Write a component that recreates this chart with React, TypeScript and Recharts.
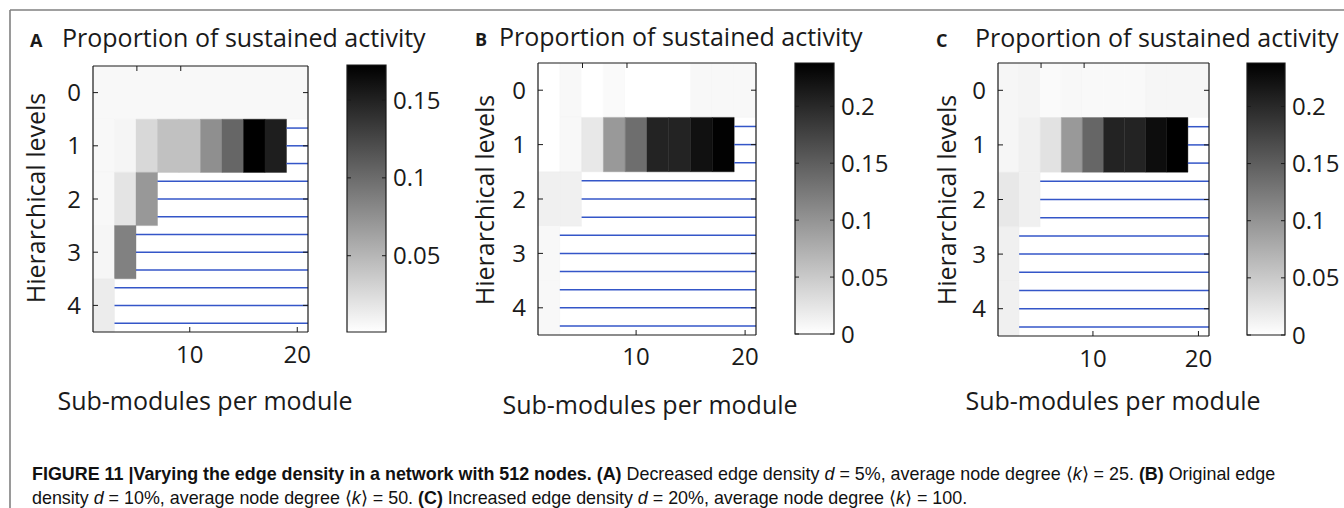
import React from 'react';
import { ComposedChart, XAxis, YAxis, ReferenceArea, ReferenceLine, Scatter } from 'recharts';

// ---------- data ----------
const subModules = [2, 4, 6, 8, 10, 12, 14, 16, 18, 20];
const levels = [0, 1, 2, 3, 4];
const xTicks = [10, 20];
const yTicks = [0, 1, 2, 3, 4];

const sustainedA: (number | null)[][] = [
  [0.006, 0.006, 0.006, 0.006, 0.006, 0.006, 0.006, 0.006, 0.006, 0.006],
  [0.006, 0.008, 0.027, 0.043, 0.043, 0.076, 0.104, 0.1725, 0.152, null],
  [0.006, 0.019, 0.07, null, null, null, null, null, null, null],
  [0.007, 0.086, null, null, null, null, null, null, null, null],
  [0.014, null, null, null, null, null, null, null, null, null],
];
const sustainedB: (number | null)[][] = [
  [0, 0.0065, 0, 0.0047, 0, 0, 0, 0.0065, 0.0065, 0.0065],
  [0, 0.0065, 0.0215, 0.095, 0.135, 0.205, 0.205, 0.222, 0.236, null],
  [0.014, 0.014, null, null, null, null, null, null, null, null],
  [0.0065, null, null, null, null, null, null, null, null, null],
  [0.0065, null, null, null, null, null, null, null, null, null],
];
const sustainedC: (number | null)[][] = [
  [0.0084, 0.0103, 0.0047, 0.0065, 0.0056, 0.0056, 0.0056, 0.0084, 0.0084, 0.0084],
  [0.0084, 0.014, 0.027, 0.095, 0.143, 0.205, 0.205, 0.226, 0.238, null],
  [0.0215, 0.014, null, null, null, null, null, null, null, null],
  [0.014, null, null, null, null, null, null, null, null, null],
  [0.014, null, null, null, null, null, null, null, null, null],
];
const colorTicksA = [0.05, 0.1, 0.15];
const colorTicksBC = [0, 0.05, 0.1, 0.15, 0.2];
const colorRangeA = [0.001, 0.1725];
const colorRangeB = [0, 0.238];
const colorRangeC = [0, 0.238];
const panelLetters = ['A', 'B', 'C'];
const titleText = 'Proportion of sustained activity';
const xLabelText = 'Sub-modules per module';
const yLabelText = 'Hierarchical levels';

// ---------- layout ----------
const FONT = "'Open Sans', 'Noto Sans', sans-serif";
const AX = '#1a1a1a';
const NAN_BLUE = '#3456c8';

type Layout = {
  plot: { left: number; top: number; w: number; h: number };
  cb: { left: number; top: number; w: number; h: number };
  xTickMargin: number;
  letterX: number; titleX: number; titleY: number;
  xLabel: { x: number; y: number };
  yLabel: { x: number; y: number };
};

const layouts: Layout[] = [
  { plot: { left: 93, top: 66, w: 215, h: 266 }, cb: { left: 347, top: 65, w: 39, h: 267 }, xTickMargin: 19,
    letterX: 30, titleX: 62, titleY: 47, xLabel: { x: 205, y: 410 }, yLabel: { x: 35, y: 198 } },
  { plot: { left: 538, top: 63, w: 218, h: 272 }, cb: { left: 795, top: 63, w: 39, h: 271 }, xTickMargin: 18,
    letterX: 475, titleX: 499, titleY: 46, xLabel: { x: 650, y: 414 }, yLabel: { x: 484, y: 200 } },
  { plot: { left: 998, top: 63, w: 211, h: 273 }, cb: { left: 1247, top: 63, w: 38, h: 272 }, xTickMargin: 19,
    letterX: 936, titleX: 975, titleY: 47, xLabel: { x: 1113, y: 410 }, yLabel: { x: 946, y: 200 } },
];

const panelData = [sustainedA, sustainedB, sustainedC];
const panelRanges = [colorRangeA, colorRangeB, colorRangeC];
const panelColorTicks = [colorTicksA, colorTicksBC, colorTicksBC];

function grayFor(v: number, range: number[]) {
  const t = Math.max(0, Math.min(1, (v - range[0]) / (range[1] - range[0])));
  const g = Math.round(255 * (1 - t));
  return `rgb(${g},${g},${g})`;
}

const LW = 60; // left axis width
const TH = 5; // top axis height
const RW = 5; // right axis width
const BH = 45; // bottom axis height

function Heatmap({ idx }: { idx: number }) {
  const L = layouts[idx];
  const rows = panelData[idx];
  const range = panelRanges[idx];
  const xMin = subModules[0] - 1;
  const xMax = subModules[subModules.length - 1] + 1;
  const pts = levels.flatMap((lv) => subModules.map((s) => ({ x: s, y: lv })));
  const tickStyle = { fontSize: 24, fill: '#1a1a1a', fontFamily: FONT };
  const cells: React.ReactNode[] = [];
  const lines: React.ReactNode[] = [];
  levels.forEach((lv, r) => {
    rows[r].forEach((v, c) => {
      if (v === null) return;
      const col = grayFor(v, range);
      cells.push(
        <ReferenceArea key={`c${r}-${c}`} xAxisId="b" yAxisId="l"
          x1={subModules[c] - 1} x2={subModules[c] + 1} y1={lv - 0.5} y2={lv + 0.5}
          fill={col} fillOpacity={1} stroke={col} strokeWidth={0.4} ifOverflow="visible" />
      );
    });
    const first = rows[r].findIndex((v) => v === null);
    if (first >= 0) {
      [-1 / 3, 0, 1 / 3].forEach((off, k) => {
        lines.push(
          <ReferenceLine key={`l${r}-${k}`} xAxisId="b" yAxisId="l"
            segment={[{ x: subModules[first] - 1, y: lv + off }, { x: xMax, y: lv + off }]}
            stroke={NAN_BLUE} strokeWidth={1.5} ifOverflow="visible" />
        );
      });
    }
  });
  return (
    <div style={{ position: 'absolute', left: L.plot.left - LW, top: L.plot.top - TH }}>
      <ComposedChart width={LW + L.plot.w + RW} height={TH + L.plot.h + BH} data={pts}
        margin={{ top: 0, right: 0, bottom: 0, left: 0 }}>
        <XAxis xAxisId="b" dataKey="x" type="number" domain={[xMin, xMax]} ticks={xTicks}
          allowDataOverflow height={BH} tickSize={-5} tickMargin={L.xTickMargin}
          tick={tickStyle} axisLine={{ stroke: AX, strokeWidth: 1.2 }} tickLine={{ stroke: AX }} />
        <XAxis xAxisId="t" orientation="top" type="number" domain={[xMin, xMax]} ticks={xTicks}
          allowDataOverflow height={TH} tickSize={-5} tickFormatter={() => ''}
          axisLine={{ stroke: AX, strokeWidth: 1.2 }} tickLine={{ stroke: AX }} />
        <YAxis yAxisId="l" dataKey="y" type="number" domain={[-0.5, 4.5]} ticks={yTicks} reversed
          allowDataOverflow width={LW} tickSize={-5} tickMargin={17}
          tick={tickStyle} axisLine={{ stroke: AX, strokeWidth: 1.2 }} tickLine={{ stroke: AX }} />
        <YAxis yAxisId="r" orientation="right" type="number" domain={[-0.5, 4.5]} ticks={yTicks} reversed
          allowDataOverflow width={RW} tickSize={-5} tickFormatter={() => ''}
          axisLine={{ stroke: AX, strokeWidth: 1.2 }} tickLine={{ stroke: AX }} />
        <Scatter xAxisId="b" yAxisId="l" dataKey="y" fill="none" stroke="none" isAnimationActive={false} />
        {cells}
        {lines}
      </ComposedChart>
    </div>
  );
}

function Colorbar({ idx }: { idx: number }) {
  const L = layouts[idx];
  const range = panelRanges[idx];
  const ticks = panelColorTicks[idx];
  const gid = `cbgrad${idx}`;
  const CW = 5, CR = 70, M = 15;
  return (
    <div style={{ position: 'absolute', left: L.cb.left - CW, top: L.cb.top - M }}>
      <ComposedChart width={CW + L.cb.w + CR} height={M + L.cb.h + M} data={[{ x: 0, y: range[0] }, { x: 1, y: range[1] }]}
        margin={{ top: M, right: 0, bottom: M, left: 0 }}>
        <defs>
          <linearGradient id={gid} x1="0" y1="1" x2="0" y2="0">
            <stop offset="0%" stopColor="#ffffff" />
            <stop offset="100%" stopColor="#000000" />
          </linearGradient>
        </defs>
        <XAxis xAxisId="x" dataKey="x" type="number" domain={[0, 1]} hide allowDataOverflow />
        <YAxis yAxisId="cl" type="number" domain={range} ticks={ticks} width={CW} allowDataOverflow
          tickSize={-4} tickFormatter={() => ''} axisLine={false} tickLine={{ stroke: AX }} />
        <YAxis yAxisId="cr" dataKey="y" orientation="right" type="number" domain={range} ticks={ticks} width={CR}
          allowDataOverflow tickSize={-4} tickMargin={11} axisLine={false} tickLine={{ stroke: AX }}
          tick={{ fontSize: 24, fill: '#1a1a1a', fontFamily: FONT }} />
        <ReferenceArea xAxisId="x" yAxisId="cr" x1={0} x2={1} y1={range[0]} y2={range[1]}
          fill={`url(#${gid})`} fillOpacity={1} stroke={AX} strokeWidth={1.2} ifOverflow="visible" />
        <Scatter xAxisId="x" yAxisId="cr" fill="none" stroke="none" isAnimationActive={false} />
      </ComposedChart>
    </div>
  );
}

function Texts() {
  return (
    <svg width={1344} height={508} style={{ position: 'absolute', left: 0, top: 0, pointerEvents: 'none' }}>
      <line x1={10} y1={10} x2={1344} y2={10} stroke="#808080" strokeWidth={1.6} />
      <line x1={10} y1={10} x2={10} y2={508} stroke="#808080" strokeWidth={1.6} />
      {layouts.map((L, i) => (
        <g key={i} fontFamily={FONT} fill="#1a1a1a">
          <text x={L.letterX} y={L.titleY} fontSize={18} fontWeight="bold">{panelLetters[i]}</text>
          <text x={L.titleX} y={L.titleY} fontSize={25}>{titleText}</text>
          <text x={L.xLabel.x} y={L.xLabel.y} fontSize={25} textAnchor="middle">{xLabelText}</text>
          <text x={L.yLabel.x} y={L.yLabel.y} fontSize={25} textAnchor="middle" dominantBaseline="central"
            transform={`rotate(-90 ${L.yLabel.x} ${L.yLabel.y})`}>{yLabelText}</text>
        </g>
      ))}
      <g fontFamily="'Liberation Sans', 'Arimo', sans-serif" fontSize={17.9} fill="#111">
        <text x={32} y={480}>
          <tspan fontWeight="bold">FIGURE 11 |Varying the edge density in a network with 512 nodes. (A)</tspan>
          <tspan> Decreased edge density </tspan><tspan fontStyle="italic">d</tspan>
          <tspan> = 5%, average node degree ⟨</tspan><tspan fontStyle="italic">k</tspan>
          <tspan>⟩ = 25. </tspan><tspan fontWeight="bold">(B)</tspan><tspan> Original edge</tspan>
        </text>
        <text x={32} y={504}>
          <tspan>density </tspan><tspan fontStyle="italic">d</tspan>
          <tspan> = 10%, average node degree ⟨</tspan><tspan fontStyle="italic">k</tspan>
          <tspan>⟩ = 50. </tspan><tspan fontWeight="bold">(C)</tspan>
          <tspan> Increased edge density </tspan><tspan fontStyle="italic">d</tspan>
          <tspan> = 20%, average node degree ⟨</tspan><tspan fontStyle="italic">k</tspan>
          <tspan>⟩ = 100.</tspan>
        </text>
      </g>
    </svg>
  );
}

export default function App() {
  return (
    <div style={{ position: 'absolute', left: 0, top: 0, width: 1344, height: 508, background: '#fff', overflow: 'hidden', fontFamily: FONT }}>
      {layouts.map((_, i) => (
        <React.Fragment key={i}>
          <Heatmap idx={i} />
          <Colorbar idx={i} />
        </React.Fragment>
      ))}
      <Texts />
    </div>
  );
}
